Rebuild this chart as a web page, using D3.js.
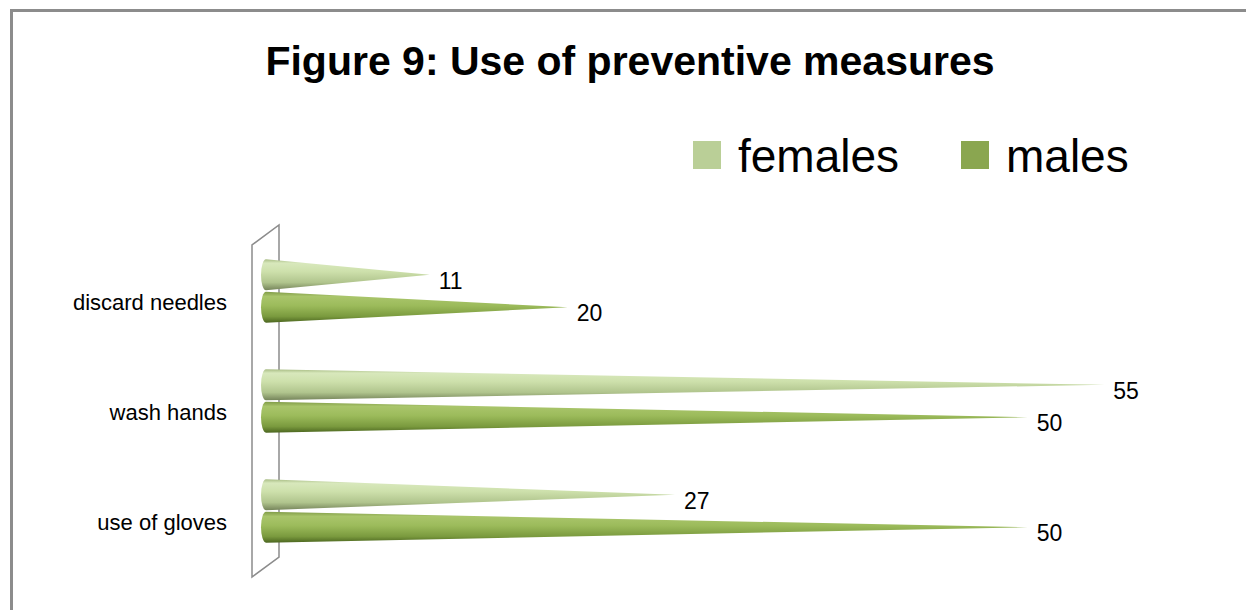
<!DOCTYPE html>
<html>
<head>
<meta charset="utf-8">
<script src="https://cdn.jsdelivr.net/npm/d3@7"></script>
<style>
  html, body { margin: 0; padding: 0; background: #fff; }
  svg { display: block; }
  text { font-family: "Liberation Sans", Arial, sans-serif; fill: #000; }
</style>
</head>
<body>
<svg id="chart" width="1246" height="610"></svg>
<script>
const categories = ["discard needles", "wash hands", "use of gloves"];
const seriesNames = ["females", "males"];
const females = [11, 55, 27];
const males = [20, 50, 50];

const svg = d3.select("#chart");
const colors = { females: "#bacf97", males: "#8aa650" };

// outer frame (top + left edges visible)
svg.append("path")
  .attr("d", "M11.5 610 V10.5 H1246")
  .attr("fill", "none")
  .attr("stroke", "#8c8c8c")
  .attr("stroke-width", 3);

// title
svg.append("text")
  .attr("x", 630)
  .attr("y", 75)
  .attr("text-anchor", "middle")
  .attr("font-size", 41)
  .attr("font-weight", "bold")
  .text("Figure 9: Use of preventive measures");

// legend
const legend = svg.append("g");
const legendItems = [
  { name: "females", x: 693 },
  { name: "males", x: 961 }
];
legendItems.forEach((d) => {
  legend.append("rect")
    .attr("x", d.x).attr("y", 141)
    .attr("width", 28).attr("height", 28)
    .attr("fill", colors[d.name]);
  legend.append("text")
    .attr("x", d.x + 45).attr("y", 172)
    .attr("font-size", 46)
    .text(d.name);
});

// scales
const x = d3.scaleLinear().domain([0, 60]).range([261, 1181]);
const y = d3.scaleBand().domain(categories).range([236, 566]);
const sub = d3.scaleBand().domain(seriesNames).range([0, y.bandwidth()])
  .paddingInner(0.05).paddingOuter(0.72);

// 3d wall of the category axis
svg.append("path")
  .attr("d", "M252 577 V245 L279 225 V557 Z")
  .attr("fill", "none")
  .attr("stroke", "#8c8c8c")
  .attr("stroke-width", 1.5);

// gradients
const defs = svg.append("defs");
const gradStops = {
  females: [[0, "#a9bd85"], [0.12, "#d8e8bc"], [0.4, "#cde0ab"], [0.75, "#b0c48d"], [1, "#75845a"]],
  males: [[0, "#819c48"], [0.15, "#a9c56b"], [0.45, "#9cbb5b"], [0.8, "#7a9a3e"], [1, "#4c6620"]]
};
seriesNames.forEach((s) => {
  const g = defs.append("linearGradient")
    .attr("id", "grad-" + s)
    .attr("x1", 0).attr("y1", 0).attr("x2", 0).attr("y2", 1);
  gradStops[s].forEach((st) => {
    g.append("stop").attr("offset", st[0]).attr("stop-color", st[1]);
  });
});

// rows
const rows = categories.map((c, i) => ({
  category: c,
  values: [
    { series: "females", value: females[i] },
    { series: "males", value: males[i] }
  ]
}));

const rowG = svg.selectAll(".row")
  .data(rows)
  .enter()
  .append("g")
  .attr("class", "row")
  .attr("transform", (d) => `translate(0,${y(d.category)})`);

// category labels
rowG.append("text")
  .attr("x", 227)
  .attr("y", y.bandwidth() / 2 + 19)
  .attr("text-anchor", "end")
  .attr("font-size", 22)
  .text((d) => d.category);

const cone = (d) => {
  const top = sub(d.series);
  const h = sub.bandwidth();
  const cy = top + h / 2;
  const x0 = x(0) + 5;
  return `M${x0},${top} A5,${h / 2} 0 0 0 ${x0},${top + h} L${x(d.value)},${cy} Z`;
};

const bars = rowG.selectAll(".bar")
  .data((d) => d.values)
  .enter()
  .append("g")
  .attr("class", "bar");

bars.append("path")
  .attr("d", cone)
  .attr("fill", (d) => `url(#grad-${d.series})`);

// value labels
bars.append("text")
  .attr("x", (d) => x(d.value) + 9)
  .attr("y", (d) => sub(d.series) + sub.bandwidth() / 2 + 14)
  .attr("font-size", 23)
  .attr("fill", "#111")
  .text((d) => d.value);
</script>
</body>
</html>
